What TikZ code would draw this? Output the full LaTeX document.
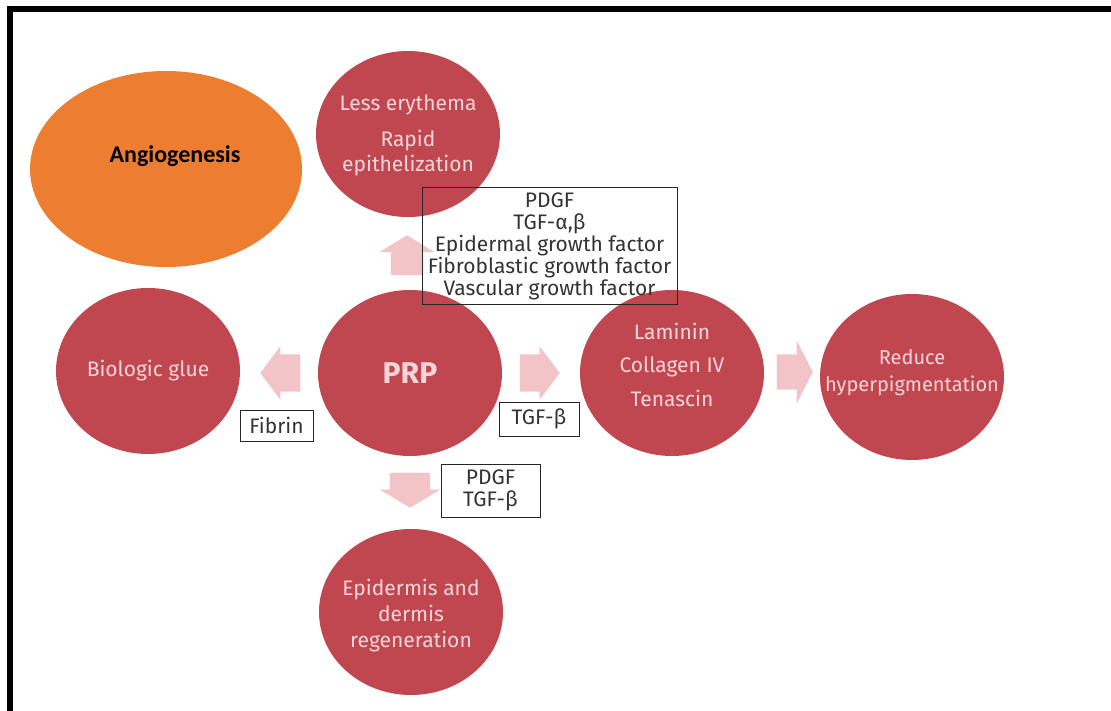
\documentclass[tikz,border=0pt]{standalone}
\usepackage{fontspec}
\setmainfont{Fira Sans}
\newfontfamily\calibri{Carlito}
\usetikzlibrary{shapes.geometric,shapes.arrows}

\definecolor{prpred}{HTML}{C0474F}
\definecolor{prptext}{HTML}{F5D5D8}
\definecolor{arrowpink}{HTML}{F2C3C7}
\definecolor{angioorange}{HTML}{ED7D31}
\definecolor{boxtext}{HTML}{333333}

% lines of a circle, lifted without changing the node size
\newcommand\liftlines[2]{\raisebox{#1}[\height][\depth]{\begin{tabular}{@{}c@{}}#2\end{tabular}}}

\begin{document}
\begin{tikzpicture}[
    x=1pt, y=-1pt, % pixel-like units, y going down
    effect/.style={
        ellipse,
        fill=prpred,
        text=prptext,
        minimum width=184pt,
        minimum height=166pt,
        inner xsep=-15pt,
        inner ysep=0pt,
        align=center,
        font=\fontsize{21}{26}\selectfont
    },
    factor/.style={
        rectangle,
        draw=black!85,
        line width=1pt,
        text=boxtext,
        align=center,
        inner sep=2pt,
        font=\fontsize{21}{22}\selectfont
    },
    blockarrow/.style={
        single arrow,
        fill=arrowpink,
        draw=none,
        anchor=tip,
        inner xsep=0pt,
        inner ysep=18.5pt,
        minimum height=40pt,
        minimum width=53pt,
        single arrow head extend=8pt,
        single arrow tip angle=106
    }
]
    \useasboundingbox (0,0) rectangle (1111,711);

    % --- Nodes ---

    % Orange ellipse (top left)
    \node [ellipse, fill=angioorange, minimum width=272pt, minimum height=196pt] (angio) at (166,169) {};
    \node [font=\calibri\bfseries\fontsize{24}{26}\selectfont] (angiotext) at (175,156) {Angiogenesis};

    % Middle row
    \node [effect, font=\fontsize{30}{32}\selectfont\bfseries] (prp) at (410,373) {PRP};
    \node [effect] (glue) at (148,371) {Biologic glue};
    \node [effect] (matrix) at (672,373) {\liftlines{5.5pt}{Laminin\\[7.5pt] Collagen IV\\[7.5pt] Tenascin}};
    \node [effect, font=\fontsize{20}{27}\selectfont] (pigment) at (912,377)
        {\liftlines{4pt}{Reduce\\ \makebox[0pt]{hyperpigmentation}}};

    % Top and bottom
    \node [effect, font=\fontsize{21}{25}\selectfont] (skin) at (408,134)
        {\liftlines{-2pt}{Less erythema\\[11pt] Rapid\\ epithelization}};
    \node [effect] (regen) at (411,612) {\liftlines{-4pt}{Epidermis and\\ dermis\\ regeneration}};

    % Block arrows (placed by their tips)
    \node [blockarrow, shape border rotate=90, inner xsep=16pt, inner ysep=0pt, minimum width=55pt,
           single arrow head extend=11.5pt, single arrow tip angle=117] (toskin) at (407,235) {};
    \node [blockarrow, shape border rotate=180] (toglue) at (260,373) {};
    \node [blockarrow, shape border rotate=0] (tomatrix) at (560,373) {};
    \node [blockarrow, shape border rotate=0, inner ysep=17.5pt, minimum height=36pt, minimum width=63pt,
           single arrow head extend=14pt, single arrow tip angle=126] (topigment) at (813,372) {};
    \node [blockarrow, shape border rotate=270, inner xsep=20pt, inner ysep=0pt, minimum height=35pt, minimum width=60pt,
           single arrow head extend=10pt, single arrow tip angle=118] (toregen) at (410,508) {};

    % Growth factor boxes
    \node [factor, minimum width=255pt, minimum height=117pt] (factors) at (549.5,246.5)
        {PDGF\\ TGF-α,β\\ Epidermal growth factor\\ Fibroblastic growth factor\\ Vascular growth factor};
    \node [factor, minimum width=73pt, minimum height=31pt] (fibrin) at (276.5,425.5) {Fibrin};
    \node [factor, minimum width=80pt, minimum height=34pt] (tgfb) at (539,419) {TGF-β};
    \node [factor, minimum width=99pt, minimum height=53pt] (pdgf) at (490.5,490.5) {PDGF\\ TGF-β};

    % Frame (top and left edges only)
    \draw [line width=6pt] (10,714) -- (10,9) -- (1114,9);

\end{tikzpicture}
\end{document}
